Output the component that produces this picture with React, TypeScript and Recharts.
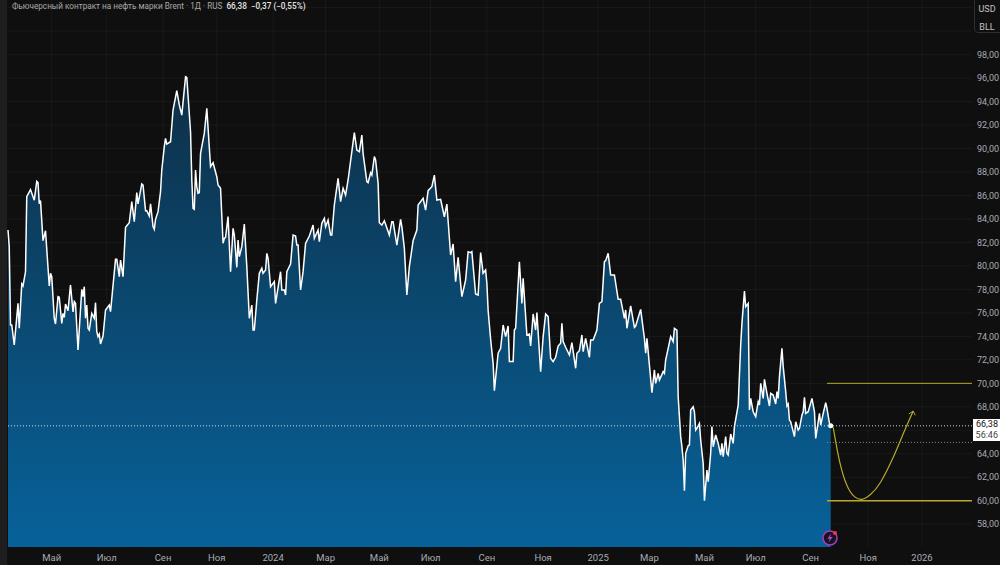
import { Area, CartesianGrid, ComposedChart, Line, ReferenceDot, ReferenceLine, XAxis, YAxis } from 'recharts'

// trading session number, counted from the left edge of the chart
const sessions = [
  0, 1, 2, 3, 5, 8, 9, 11, 12, 14, 15, 18, 21, 23, 24, 25, 26, 28, 30, 33, 34, 35, 37, 38, 40, 41, 43, 44, 45, 46,
  48, 50, 52, 53, 54, 56, 59, 60, 61, 62, 63, 64, 65, 67, 69, 70, 71, 72, 73, 74, 76, 78, 81, 82, 86, 87, 89, 90, 92, 94,
  97, 99, 101, 103, 104, 107, 108, 110, 111, 113, 114, 116, 117, 118, 120, 122, 123, 125, 126, 127, 130, 132, 135, 137, 139, 142, 143, 146, 147, 148,
  149, 150, 151, 152, 153, 154, 155, 157, 159, 162, 164, 167, 168, 170, 172, 173, 174, 176, 178, 180, 181, 183, 184, 185, 187, 189, 191, 193, 195, 196,
  197, 199, 201, 203, 204, 206, 207, 208, 210, 213, 214, 218, 219, 221, 222, 223, 226, 228, 230, 231, 232, 234, 236, 238, 241, 244, 245, 248, 249, 251,
  253, 254, 256, 258, 259, 261, 264, 266, 268, 270, 272, 275, 277, 279, 281, 283, 284, 287, 288, 290, 291, 293, 294, 296, 297, 299, 301, 305, 307, 308,
  311, 314, 315, 317, 319, 321, 324, 327, 328, 332, 334, 336, 339, 341, 343, 346, 349, 351, 354, 356, 358, 360, 363, 366, 368, 370, 371, 374, 376, 378,
  380, 382, 383, 384, 386, 388, 389, 392, 394, 396, 398, 400, 401, 404, 405, 406, 409, 411, 412, 415, 417, 418, 420, 422, 423, 426, 428, 430, 432, 434,
  436, 438, 440, 442, 443, 444, 446, 449, 451, 454, 455, 457, 459, 460, 462, 465, 466, 468, 471, 473, 475, 477, 478, 480, 482, 485, 488, 490, 493, 494,
  495, 498, 501, 502, 506, 509, 510, 511, 512, 515, 517, 518, 520, 521, 524, 525, 526, 528, 530, 532, 533, 535, 536, 538, 539, 540, 541, 542, 544, 545,
  546, 548, 549, 550, 551, 553, 554, 556, 557, 559, 560, 562, 563, 564, 566, 568, 570, 571, 572, 574, 575, 576, 578, 580, 581, 584, 586, 587, 589, 590,
  592, 593, 594, 596, 598, 600, 601, 602, 604, 605, 607, 609, 610, 612, 614, 615, 616, 617, 619, 620, 622, 623, 624, 625, 626, 629, 630, 632, 633, 635,
  636, 637, 638, 640, 643, 645, 646, 649, 650, 652, 654, 655, 657, 658,
]

const closes = [
  83.06, 81.64, 74.97, 74.97, 73.27, 76.81, 74.69, 78.46, 78.29, 79.5, 85.9, 86.5, 85.6, 87.2, 87.1, 85.3, 85.56, 82.15, 83.0, 78.29, 79.37, 79.09, 75.54, 75.05, 77.38, 77.33, 75.11, 75.96, 75.62, 76.76,
  76.19, 78.38, 76.08, 76.96, 76.81, 72.84, 78.01, 77.38, 78.23, 75.54, 76.67, 74.69, 74.54, 75.96, 75.54, 76.87, 74.4, 73.98, 74.2, 73.35, 74.03, 76.25, 76.67, 76.1, 80.56, 80.56, 79.09, 80.5, 79.09, 83.29,
  83.69, 85.47, 83.77, 86.24, 85.28, 86.98, 86.89, 84.71, 84.71, 84.25, 85.28, 83.35, 83.12, 83.97, 84.62, 86.33, 88.17, 90.16, 90.87, 90.38, 90.58, 93.28, 94.93, 93.71, 92.85, 96.12, 96.06, 91.43, 87.32, 84.9,
  84.82, 88.17, 86.75, 86.18, 86.24, 89.59, 90.16, 91.29, 93.42, 88.45, 88.79, 87.6, 86.89, 86.61, 81.93, 82.35, 82.44, 84.2, 79.51, 83.2, 82.64, 79.88, 82.21, 80.79, 81.64, 83.57, 79.94, 75.54, 76.67, 74.54,
  74.54, 77.1, 79.37, 79.8, 79.37, 79.65, 81.07, 80.65, 78.23, 78.66, 76.81, 79.51, 77.95, 77.95, 77.52, 79.51, 80.16, 82.63, 82.55, 81.78, 81.78, 77.95, 79.51, 81.92, 82.55, 83.48, 82.35, 83.06, 82.06, 83.63,
  84.05, 83.34, 83.91, 82.63, 82.63, 85.19, 87.46, 85.47, 86.61, 86.04, 87.32, 89.73, 91.35, 89.87, 89.73, 91.15, 89.59, 87.18, 87.09, 87.94, 87.74, 89.31, 89.02, 87.03, 83.68, 83.48, 83.85, 82.63, 83.77, 83.77,
  81.78, 83.97, 83.34, 81.5, 77.52, 79.94, 82.15, 83.06, 85.19, 85.76, 84.76, 86.41, 86.75, 87.74, 85.61, 85.67, 84.19, 85.27, 80.93, 81.87, 78.66, 80.73, 77.38, 78.8, 81.21, 81.13, 81.21, 77.61, 77.52, 81.13,
  79.37, 79.65, 78.52, 76.2, 73.75, 71.7, 69.38, 72.56, 72.98, 74.97, 73.98, 74.88, 71.85, 71.85, 74.54, 74.69, 80.36, 76.81, 78.94, 74.12, 74.2, 73.18, 75.91, 74.54, 76.02, 71.0, 73.98, 75.91, 75.68, 72.13,
  71.85, 72.22, 73.18, 73.41, 75.11, 73.55, 73.07, 72.41, 73.46, 71.28, 72.56, 72.78, 74.12, 72.7, 73.83, 72.22, 73.69, 73.69, 74.54, 76.81, 76.96, 80.36, 80.45, 81.07, 79.23, 79.23, 77.16, 77.16, 75.54, 76.25,
  74.69, 76.59, 74.77, 74.88, 76.3, 73.83, 72.56, 73.83, 72.7, 69.21, 71.14, 70.0, 70.85, 70.28, 71.0, 70.85, 71.99, 72.98, 73.98, 73.55, 74.69, 74.54, 68.86, 65.46, 64.6, 63.47, 60.86, 64.04, 64.69, 64.75,
  67.73, 68.01, 67.58, 66.02, 66.17, 66.59, 65.17, 63.18, 60.0, 62.62, 61.62, 64.04, 66.31, 64.6, 65.6, 64.89, 63.89, 64.89, 63.75, 65.46, 64.04, 63.89, 65.68, 64.89, 66.31, 68.15, 73.26, 75.11, 77.86, 76.53,
  76.81, 67.73, 68.72, 67.58, 67.16, 68.44, 68.15, 70.0, 68.72, 70.34, 69.15, 68.07, 69.15, 69.0, 68.24, 69.29, 68.72, 70.57, 72.98, 71.42, 69.29, 68.07, 68.24, 66.87, 66.73, 65.46, 66.73, 66.02, 66.17, 67.3,
  67.58, 68.81, 67.44, 67.58, 68.72, 67.58, 65.31, 67.44, 66.45, 67.44, 68.35, 67.87, 66.59, 66.38,
]

// hand-drawn forecast arc after the last close
const arcSessions = [660, 665, 671, 677, 683, 690, 698, 708, 716, 724]
const arcValues = [66.25, 63.4, 61.3, 60.35, 60.12, 60.55, 61.6, 63.7, 65.7, 67.64]

// 66,00 sits under the white price tag, so only its grid line is drawn
const priceTicks = [58, 60, 62, 64, 68, 70, 72, 74, 76, 78, 80, 82, 84, 86, 88, 90, 92, 94, 96, 98]
const gridPrices = [...priceTicks, 66, 100, 102]
const timeTicks = [35, 79, 124, 167, 212, 254, 297, 338, 383, 428, 472, 513, 557, 598, 642, 688, 731]
const timeLabels = ['Май', 'Июл', 'Сен', 'Ноя', '2024', 'Мар', 'Май', 'Июл', 'Сен', 'Ноя', '2025', 'Мар', 'Май', 'Июл', 'Сен', 'Ноя', '2026']

const lastClose = 66.38
const levelHigh = 70
const levelLow = 60
const levelMid = 64.97

const chartData = [
  ...sessions.map((s, i) => ({ session: s, close: closes[i] })),
  ...arcSessions.map((s, i) => ({ session: s, arc: arcValues[i] })),
]

const FONT = 'Roboto, sans-serif'
const YELLOW = '#b8a92a'

const LightningBadge = () => (
  <svg width={20} height={20} style={{ position: 'absolute', left: 820, top: 528 }}>
    <circle cx={10} cy={10} r={7} fill="#1a1220" stroke="#9c3fc0" strokeWidth={1.6} />
    <path d="M11.2 5.6 L7.4 10.8 H9.8 L8.6 14.4 L12.6 9 H10.2 Z" fill="#a94bd0" />
    <circle cx={15} cy={5} r={2} fill="#f23645" />
  </svg>
)

export default function App() {
  return (
    <div style={{ position: 'absolute', left: 0, top: 0, width: 1000, height: 565, background: '#0f0f0f', overflow: 'hidden', fontFamily: FONT }}>
      <ComposedChart width={1000} height={565} data={chartData} margin={{ top: 0, right: 0, bottom: 0, left: 8 }}>
        <defs>
          <linearGradient id="brentFill" x1="0" y1="0" x2="0" y2="1">
            <stop offset="0%" stopColor="#0e2f47" />
            <stop offset="100%" stopColor="#07629a" />
          </linearGradient>
        </defs>
        <XAxis
          dataKey="session"
          type="number"
          domain={[0, 771]}
          ticks={timeTicks}
          tickFormatter={(v: number) => timeLabels[timeTicks.indexOf(v)]}
          interval={0}
          height={18}
          axisLine={false}
          tickLine={false}
          tick={{ fill: '#a8abb3', fontSize: 9.5 }}
          tickMargin={1}
        />
        <YAxis
          orientation="right"
          type="number"
          domain={[56.06, 102.65]}
          ticks={priceTicks}
          tickFormatter={(v: number) => v.toFixed(2).replace('.', ',')}
          interval={0}
          width={28}
          axisLine={false}
          tickLine={false}
          tickSize={0}
          tick={{ fill: '#a8abb3', fontSize: 9 }}
          tickMargin={5}
          allowDataOverflow
        />
        <Area
          dataKey="close"
          type="linear"
          stroke="#ffffff"
          strokeWidth={1.5}
          fill="url(#brentFill)"
          fillOpacity={1}
          dot={false}
          activeDot={false}
          isAnimationActive={false}
        />
        <CartesianGrid
          stroke="#ffffff"
          strokeOpacity={0.045}
          horizontalValues={gridPrices}
          verticalValues={timeTicks}
        />
        <ReferenceLine y={lastClose} stroke="#d8d8d8" strokeDasharray="1 2" />
        <ReferenceLine segment={[{ x: 655, y: levelMid }, { x: 771, y: levelMid }]} stroke="#8c8c8c" strokeDasharray="1 2" />
        <ReferenceLine segment={[{ x: 655, y: levelHigh }, { x: 771, y: levelHigh }]} stroke={YELLOW} />
        <ReferenceLine segment={[{ x: 655, y: levelLow }, { x: 771, y: levelLow }]} stroke={YELLOW} strokeWidth={1.3} />
        <Line dataKey="arc" type="natural" stroke={YELLOW} strokeWidth={1.2} dot={false} activeDot={false} connectNulls isAnimationActive={false} />
        <ReferenceLine segment={[{ x: 724, y: 67.64 }, { x: 720.5, y: 67.39 }]} stroke={YELLOW} />
        <ReferenceLine segment={[{ x: 724, y: 67.64 }, { x: 725.6, y: 67.27 }]} stroke={YELLOW} />
        <ReferenceDot x={658} y={lastClose} r={2.5} fill="#ffffff" stroke="none" />
      </ComposedChart>

      <div style={{ position: 'absolute', left: 12, top: 1, fontSize: 8.2, lineHeight: '11px', whiteSpace: 'pre', color: '#a8a8a8' }}>
        Фьючерсный контракт на нефть марки Brent · 1Д · RUS{'  '}
        <span style={{ color: '#e4e4e4', fontWeight: 500 }}>66,38{'  '}−0,37 (−0,55%)</span>
      </div>

      <div style={{ position: 'absolute', left: 974, top: -1, width: 30, height: 34, boxSizing: 'border-box', border: '1px solid #2e2e2e', borderBottomLeftRadius: 4, background: '#0f0f0f', color: '#c4c4c4', fontSize: 9, textAlign: 'center', paddingRight: 4 }}>
        <div style={{ lineHeight: '18px' }}>USD</div>
        <div style={{ lineHeight: '18px' }}>BLL</div>
      </div>

      <div style={{ position: 'absolute', left: 973, top: 419, width: 27, height: 22, background: '#ffffff', color: '#111111', fontSize: 9, lineHeight: '11px', textAlign: 'right', paddingRight: 2, boxSizing: 'border-box' }}>
        <div style={{ height: 11 }}>66,38</div>
        <div style={{ height: 11, color: '#444444' }}>56:46</div>
      </div>

      <div style={{ position: 'absolute', left: 0, top: 0, width: 7, height: 565, background: '#1e1e1e' }} />
      <LightningBadge />
    </div>
  )
}
